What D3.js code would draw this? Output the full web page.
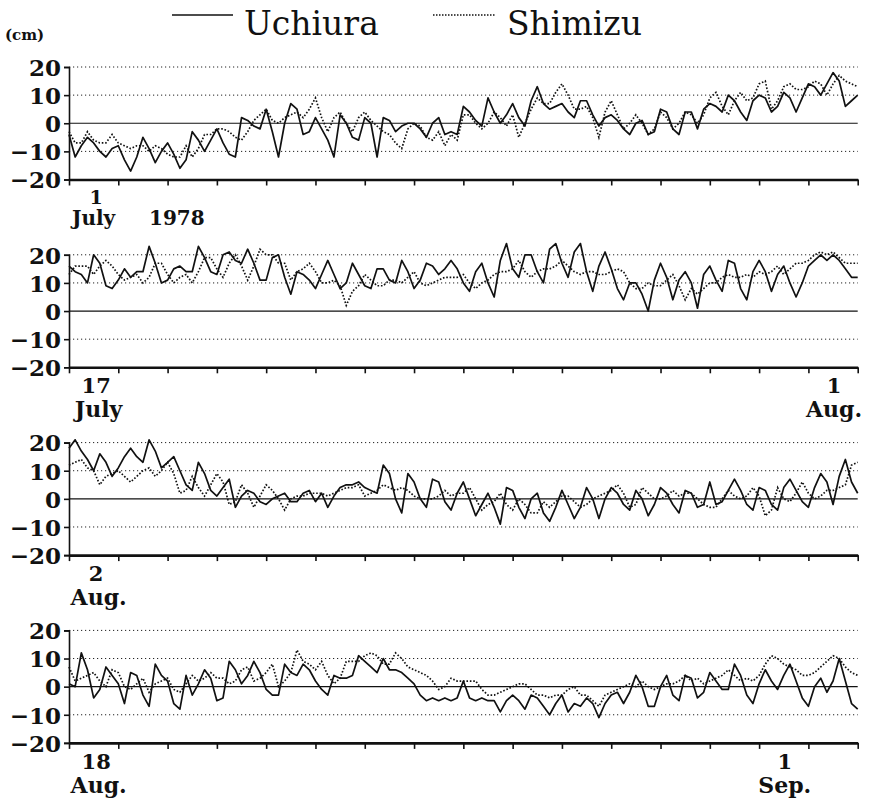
<!DOCTYPE html>
<html>
<head>
<meta charset="utf-8">
<script src="https://cdn.jsdelivr.net/npm/d3@7"></script>
<style>
  body { margin: 0; background: #fff; }
  svg text { font-family: "DejaVu Serif", "Liberation Serif", serif; fill: #111; }
</style>
</head>
<body>
<div id="chart"></div>
<script>
// Sea level (cm), 3-hourly readings, 16 days per panel
const uchiuraJul1 = [
  -4,-12,-8,-5,-7,-10,-12,-9,-8,-13,-17,-12,-5,-9,-14,-10,
  -7,-11,-16,-13,-3,-6,-10,-6,-2,-7,-11,-12,2,1,-1,-2,
  5,-3,-12,0,7,5,-4,-3,2,-2,-6,-12,3,0,-5,-6,
  2,0,-12,2,1,-3,-1,0,0,-2,-5,0,2,-4,-3,-4,
  6,4,1,-1,9,4,0,3,7,2,-1,8,13,7,5,6,
  7,4,2,8,8,3,-1,2,3,1,-2,-4,0,1,-4,-3,
  5,4,-2,-4,4,4,-2,5,7,6,4,10,8,4,1,8,
  10,9,4,6,11,9,4,9,14,13,10,14,18,15,6,8,
  10];
const shimizuJul1 = [
  -3,-7,-7,-3,-6,-7,-7,-4,-7,-8,-9,-8,-8,-10,-8,-9,
  -11,-12,-12,-8,-12,-9,-4,-4,-2,-2,-3,-5,-6,-3,1,3,
  5,1,0,2,3,4,2,5,9,2,-3,2,4,0,-3,2,
  4,1,-1,-3,-4,-7,-9,-2,0,-1,-5,-6,-3,-8,-4,-6,
  3,3,0,-2,0,4,2,-1,3,-5,0,5,9,7,7,11,
  14,10,5,5,6,2,-5,4,8,3,-2,0,3,0,-4,-2,
  4,2,-2,0,4,3,0,3,9,11,6,3,8,11,8,9,
  14,15,5,8,13,14,12,12,13,15,14,10,14,17,15,14,
  13];
const uchiuraJul17 = [
  16,14,13,10,20,17,9,8,11,15,12,14,14,23,17,10,
  11,15,16,14,14,23,19,14,13,20,21,18,17,22,17,11,
  11,19,20,12,6,14,13,11,8,13,18,13,8,10,17,13,
  9,8,15,15,11,10,18,14,8,11,17,16,13,15,18,15,
  10,7,14,17,10,5,18,24,15,12,20,20,14,10,22,24,
  17,12,21,24,14,7,16,21,15,8,4,10,10,6,0,11,
  17,12,4,11,14,10,1,13,16,11,7,18,17,8,4,14,
  18,14,7,13,16,10,5,10,16,18,20,18,20,18,15,12,
  12];
const shimizuJul17 = [
  13,16,16,16,13,16,18,16,13,11,12,13,10,12,17,17,
  13,10,12,13,10,14,19,19,15,12,17,20,16,11,16,22,
  20,20,17,17,11,14,15,17,14,10,10,11,9,2,7,9,
  13,11,9,9,11,11,10,12,14,10,9,10,11,12,12,12,
  13,10,8,10,11,13,14,14,15,18,14,12,14,15,15,16,
  18,16,14,13,14,14,13,13,14,15,14,10,8,8,10,9,
  9,11,13,9,4,8,6,8,10,10,12,13,12,12,13,12,
  14,13,14,16,13,15,17,17,18,20,21,20,21,19,17,17,
  17];
const uchiuraAug2 = [
  18,21,17,14,10,16,13,8,11,15,18,15,13,21,17,11,
  13,15,10,5,3,13,9,3,1,4,7,-3,1,3,2,-1,
  -2,0,1,2,-1,-1,2,3,-1,2,-3,1,4,5,5,6,
  4,3,2,12,9,0,-5,9,6,0,-3,7,6,-1,-4,2,
  6,0,-6,-2,2,-3,-9,4,3,-3,-7,0,2,-5,-8,-3,
  3,-2,-7,-3,4,0,-7,0,4,2,-2,-4,3,0,-6,-2,
  4,2,-2,-5,3,2,-3,-2,6,-2,-1,3,7,3,-2,-4,
  4,3,-2,-4,4,7,3,-1,-3,4,9,6,-2,8,14,6,
  2];
const shimizuAug2 = [
  12,13,14,11,10,5,8,9,10,8,6,8,10,11,8,10,
  13,9,2,3,8,4,1,5,9,6,-2,-1,5,2,-3,1,
  5,3,0,-4,0,1,1,2,2,2,1,2,3,4,4,5,
  1,2,3,5,4,3,4,3,1,0,0,0,1,3,1,2,
  2,4,0,-4,-2,-1,2,-2,-4,0,-2,-5,-5,-1,-3,-1,
  1,1,-1,-3,-2,0,1,2,3,5,2,-3,-2,4,2,0,
  0,1,3,1,2,2,0,-2,-3,-3,0,3,1,0,1,4,
  1,-6,-4,4,0,-1,2,6,2,0,1,3,3,4,5,12,
  13];
const uchiuraAug18 = [
  1,0,12,6,-4,-1,7,4,1,-6,5,4,-3,-7,8,4,
  2,-6,-8,4,-3,1,6,3,-5,-4,9,6,1,4,9,5,
  -1,-3,-3,8,5,4,8,6,2,-1,-3,4,3,3,4,11,
  9,7,5,10,6,6,5,3,1,-3,-5,-4,-5,-4,-5,-4,
  2,-4,-5,-4,-5,-5,-9,-5,-3,-5,-8,-3,-4,-7,-10,-6,
  -3,-9,-6,-7,-4,-6,-11,-6,-3,-2,-6,-2,4,0,-7,-7,
  0,4,-3,-5,4,3,-4,-2,5,2,-1,-1,8,4,-3,-6,
  1,6,2,-1,4,8,2,-4,-7,0,3,-2,2,10,2,-6,
  -8];
const shimizuAug18 = [
  7,2,3,4,5,2,0,6,5,0,-1,1,3,-2,1,2,
  3,-1,-2,1,4,2,3,5,3,3,1,2,6,7,2,3,
  5,8,0,2,5,13,9,8,6,9,4,1,3,9,9,9,
  11,12,11,8,8,12,10,7,6,5,4,2,-1,0,3,2,
  2,2,2,-1,-3,-3,-2,-1,0,1,1,-1,-3,-3,-4,-3,
  -3,-1,0,-3,-3,-5,-7,-3,-2,-1,0,1,0,2,0,-1,
  0,1,1,2,4,2,3,1,2,3,4,6,4,2,3,2,
  4,8,11,10,8,7,6,4,4,5,7,9,11,10,7,5,
  4];

const uchiura = [uchiuraJul1, uchiuraJul17, uchiuraAug2, uchiuraAug18];
const shimizu = [shimizuJul1, shimizuJul17, shimizuAug2, shimizuAug18];

const yTicks = [-20, -10, 0, 10, 20];
const gridValues = [-10, 10, 20];
const startDays = ["1", "17", "2", "18"];
const startMonths = ["July", "July", "Aug.", "Aug."];
const startYear = "1978";
const endDays = [null, "1", null, "1"];
const endMonths = [null, "Aug.", null, "Sep."];
const endDayIndex = [null, 15, null, 14];

const stepsPerDay = 8;
const daysPerPanel = 16;

const width = 871, height = 801;
const left = 69, right = 857.7;
const panelHeight = 112.5;

const svg = d3.select("#chart")
    .append("svg")
    .attr("width", width)
    .attr("height", height);

const x = d3.scaleLinear()
    .domain([0, daysPerPanel])
    .range([left, right]);

// Legend
svg.append("line")
    .attr("x1", 172).attr("x2", 233).attr("y1", 15).attr("y2", 15)
    .attr("stroke", "#111").attr("stroke-width", 1.5);
svg.append("text")
    .attr("x", 244).attr("y", 35)
    .style("font-size", "33px")
    .text("Uchiura");
svg.append("line")
    .attr("x1", 433).attr("x2", 495).attr("y1", 15).attr("y2", 15)
    .attr("stroke", "#111").attr("stroke-width", 1.5)
    .attr("stroke-dasharray", "1.5,1.5");
svg.append("text")
    .attr("x", 507).attr("y", 35)
    .style("font-size", "33px")
    .text("Shimizu");

svg.append("text")
    .attr("x", 5).attr("y", 40)
    .style("font-size", "15px")
    .style("font-weight", "bold")
    .text("(cm)");

uchiura.forEach((series, k) => {
    const top = 67 + k * 187.8;
    const bottom = top + panelHeight;
    const y = d3.scaleLinear().domain([-20, 20]).range([bottom, top]);
    const g = svg.append("g");

    // grid lines
    g.selectAll(".grid")
        .data(gridValues)
        .enter()
        .append("line")
        .attr("x1", left).attr("x2", right)
        .attr("y1", d => y(d)).attr("y2", d => y(d))
        .attr("stroke", "#222")
        .attr("stroke-width", 1)
        .attr("stroke-dasharray", "1.2,2.8");
    g.append("line")
        .attr("x1", left).attr("x2", right)
        .attr("y1", y(0)).attr("y2", y(0))
        .attr("stroke", "#111")
        .attr("stroke-width", 1.2);

    // left axis
    const yAxis = g.append("g")
        .attr("transform", "translate(" + left + ",0)")
        .call(d3.axisLeft(y)
            .tickValues(yTicks)
            .tickSize(5)
            .tickPadding(3)
            .tickFormat(d => d < 0 ? "\u2212" + Math.abs(d) : d));
    yAxis.select(".domain").attr("stroke", "#111").attr("stroke-width", 1.6);
    yAxis.selectAll(".tick line").attr("stroke", "#111").attr("stroke-width", 1.6);
    yAxis.selectAll(".tick text")
        .attr("fill", "#111")
        .style("font-family", "'DejaVu Serif', serif")
        .style("font-size", "23px")
        .style("font-weight", "bold")
        .attr("dy", "0.36em");

    // bottom axis (day ticks)
    const xAxis = g.append("g")
        .attr("transform", "translate(0," + bottom + ")")
        .call(d3.axisBottom(x)
            .tickValues(d3.range(0, daysPerPanel + 1))
            .tickSize(6)
            .tickSizeOuter(0)
            .tickFormat(""));
    xAxis.select(".domain").attr("stroke", "#111").attr("stroke-width", 2.6);
    xAxis.selectAll(".tick line").attr("stroke", "#111").attr("stroke-width", 1.6);

    // series
    const line = d3.line()
        .x((d, i) => x(i / stepsPerDay))
        .y(d => y(d));

    g.append("path")
        .datum(shimizu[k])
        .attr("fill", "none")
        .attr("stroke", "#111")
        .attr("stroke-width", 1.7)
        .attr("stroke-dasharray", "1.6,1.8")
        .attr("d", line);

    g.append("path")
        .datum(series)
        .attr("fill", "none")
        .attr("stroke", "#111")
        .attr("stroke-width", 1.7)
        .attr("stroke-linejoin", "round")
        .attr("d", line);

    // date labels
    const dayBase = bottom + (k === 0 ? 24.5 : 26);
    const monthBase = bottom + (k === 0 ? 45.5 : 50);
    const dayFont = k === 0 ? "19px" : "21px";
    const dateFont = k === 0 ? "20px" : "22px";
    g.append("text")
        .attr("x", x(0.5) + 2.5).attr("y", dayBase)
        .attr("text-anchor", "middle")
        .style("font-size", dayFont).style("font-weight", "bold")
        .text(startDays[k]);
    g.append("text")
        .attr("x", k === 0 ? x(0) + 3 : x(0.5) + 5)
        .attr("y", monthBase)
        .attr("text-anchor", k === 0 ? "start" : "middle")
        .style("font-size", dateFont).style("font-weight", "bold")
        .text(startMonths[k]);
    if (k === 0) {
        g.append("text")
            .attr("x", x(0) + 80).attr("y", monthBase)
            .style("font-size", dateFont).style("font-weight", "bold")
            .text(startYear);
    }
    if (endDays[k]) {
        g.append("text")
            .attr("x", x(endDayIndex[k] + 0.5) + 1).attr("y", dayBase)
            .attr("text-anchor", "middle")
            .style("font-size", "21px").style("font-weight", "bold")
            .text(endDays[k]);
        g.append("text")
            .attr("x", x(endDayIndex[k] + 0.5) + 1).attr("y", monthBase)
            .attr("text-anchor", "middle")
            .style("font-size", "22px").style("font-weight", "bold")
            .text(endMonths[k]);
    }
});
</script>
</body>
</html>
